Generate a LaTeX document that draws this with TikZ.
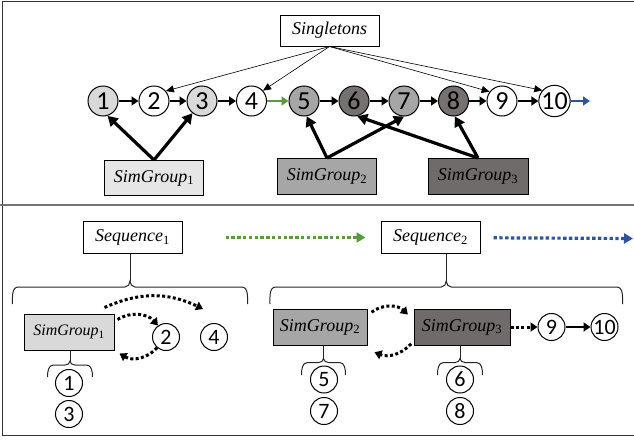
\documentclass[tikz,border=0pt]{standalone}
\usepackage{fontspec}
\setmainfont{Liberation Serif}
\newfontfamily\numfont{Carlito}
\usetikzlibrary{arrows.meta,calc}
\definecolor{lgray}{HTML}{D9D9D9}
\definecolor{lbox}{HTML}{E6E6E6}
\definecolor{mgray}{HTML}{A6A6A6}
\definecolor{dgray}{HTML}{767171}
\definecolor{dbox}{HTML}{6F6B6B}
\definecolor{agreen}{HTML}{5B9A3C}
\definecolor{ablue}{HTML}{2F5597}
\newcommand{\subn}[1]{\textsubscript{\upshape #1}}
% x1, x2, y of horizontal, y of arm ends, tip height, name of tip
\newcommand{\ubrace}[6]{%
  \pgfmathsetmacro\bxc{(#1+#2)/2}%
  \pgfmathsetmacro\bxl{#1+6}%
  \pgfmathsetmacro\bxr{#2-6}%
  \pgfmathsetmacro\bxcl{\bxc-5}%
  \pgfmathsetmacro\bxcr{\bxc+5}%
  \pgfmathsetmacro\byt{#3+#5}%
  \coordinate (#6) at (\bxc,\byt);
  \draw[bracel] (#1,#4) to[out=90,in=180] (\bxl,#3) -- (\bxcl,#3)
    to[out=0,in=-90] (#6) to[out=-90,in=180] (\bxcr,#3)
    -- (\bxr,#3) to[out=0,in=90] (#2,#4);}
\begin{document}
\begin{tikzpicture}[x=1pt,y=1pt,
  tcirc/.style={circle, draw, line width=1pt, minimum size=30pt, inner sep=0pt, font=\numfont\fontsize{26}{26}\selectfont},
  bcirc/.style={circle, draw, line width=1pt, minimum size=27pt, inner sep=0pt, fill=white, font=\numfont\fontsize{22}{22}\selectfont},
  lbl/.style={draw, line width=1pt, inner sep=0pt, font=\itshape\fontsize{18}{18}\selectfont},
  harr/.style={line width=2.8pt, -{Triangle[length=7pt,width=9pt]}},
  garr/.style={line width=3.2pt, -{Triangle[length=10pt,width=11pt]}},
  sarr/.style={line width=0.6pt, -{Triangle[length=8pt,width=7pt]}},
  darr/.style={line width=3pt, dash pattern=on 3pt off 2.4pt, -{Triangle[length=7pt,width=9pt]}},
  seqarr/.style={line width=3.2pt, dash pattern=on 3.4pt off 2.4pt, -{Triangle[length=9pt,width=10pt]}},
  bracel/.style={line width=1pt, black!85}]
\useasboundingbox (0,0) rectangle (634,-439);
\clip (0,0) rectangle (634,-439);
% frames
\draw[line width=1.3pt, black!80] (640,-1.2) -- (2.5,-1.2) -- (2.5,-435.5) -- (640,-435.5);
\draw[line width=2pt, black!55] (0,-205) -- (640,-205);

% ---------- top part ----------
\node[lbl, fill=white, minimum width=99pt, minimum height=31pt] (s) at (329.5,-30.5) {Singletons};
\node[tcirc, fill=lgray] (c1) at (103,-101) {1};
\node[tcirc, fill=white] (c2) at (154,-101) {2};
\node[tcirc, fill=lgray] (c3) at (202,-101) {3};
\node[tcirc, fill=white] (c4) at (251.5,-101) {4};
\node[tcirc, fill=mgray] (c5) at (304,-101) {5};
\node[tcirc, fill=dgray] (c6) at (354,-101) {6};
\node[tcirc, fill=mgray] (c7) at (404,-101) {7};
\node[tcirc, fill=dgray] (c8) at (453.5,-101) {8};
\node[tcirc, fill=white] (c9) at (502,-101) {9};
\node[tcirc, fill=white] (c10) at (554.5,-101) {10};
\coordinate (tend) at (590,-101);

\node[lbl, fill=lbox, minimum width=99pt, minimum height=35pt] (sg1) at (154,-178) {SimGroup\subn{1}};
\node[lbl, fill=mgray, minimum width=99pt, minimum height=36pt] (sg2) at (327,-176.5) {SimGroup\subn{2}};
\node[lbl, fill=dbox, minimum width=100pt, minimum height=36pt] (sg3) at (478,-176.5) {SimGroup\subn{3}};

\foreach \a/\b in {c1/c2,c2/c3,c3/c4,c5/c6,c6/c7,c7/c8,c8/c9,c9/c10}
  \draw[harr] (\a) -- (\b);
\draw[harr, agreen] (c4) -- (c5);
\draw[harr, ablue] (c10) -- (tend);

\draw[sarr] (s.south) -- (c2.40);
\draw[sarr] (s.south) -- (c4.42);
\draw[sarr] (s.south) -- (c9.143);
\draw[sarr] (s.south) -- (c10.139);

\draw[garr] (sg1.north) -- (c1.-73);
\draw[garr] (sg1.north) -- (c3.-128);
\draw[garr] (sg2.north) -- (c5.-80);
\draw[garr] (sg2.north) -- (c7.-90);
\draw[garr] (sg3.north) -- (c8.-85);
\draw[garr] (sg3.north) -- (c6.-78);

% ---------- bottom part ----------
\node[lbl, fill=white, minimum width=99pt, minimum height=32pt] (q1) at (132.5,-237.5) {Sequence\subn{1}};
\node[lbl, fill=white, minimum width=99pt, minimum height=32pt] (q2) at (430.5,-237.5) {Sequence\subn{2}};
\coordinate (qend) at (633,-238.5);
\draw[seqarr, agreen, shorten <=43pt, shorten >=15pt] (q1) -- (q2);
\draw[seqarr, ablue, shorten <=13pt] (q2) -- (qend);

\ubrace{12.5}{247.5}{-287}{-304}{6}{b1}
\draw[bracel] (q1.south -| b1) -- (b1);
\ubrace{270}{622.5}{-287}{-304}{6}{b2}
\draw[bracel] (q2.south -| b2) -- (b2);

\node[lbl, fill=lgray, minimum width=90pt, minimum height=36pt, font=\itshape\fontsize{16}{16}\selectfont] (sb1) at (69,-332) {SimGroup\subn{1}};
\node[lbl, fill=mgray, minimum width=94pt, minimum height=36pt] (sb2) at (320,-327) {SimGroup\subn{2}};
\node[lbl, fill=dbox, minimum width=96pt, minimum height=36pt] (sb3) at (462,-327) {SimGroup\subn{3}};

\node[bcirc] (d2) at (166,-337) {2};
\node[bcirc] (d4) at (214,-337) {4};
\node[bcirc] (d1) at (69,-383) {1};
\node[bcirc] (d3) at (69,-414) {3};
\node[bcirc] (d5) at (324,-379.5) {5};
\node[bcirc] (d7) at (324,-411) {7};
\node[bcirc] (d6) at (460,-379.5) {6};
\node[bcirc] (d8) at (460,-411) {8};
\node[bcirc] (d9) at (551.5,-327) {9};
\node[bcirc] (d10) at (604.5,-327) {10};

\ubrace{47.5}{92.5}{-365}{-377}{4}{b3}
\draw[bracel] (sb1.south -| b3) -- (b3);
\ubrace{301.5}{345.5}{-362.5}{-375}{4}{b4}
\draw[bracel] (sb2.south -| b4) -- (b4);
\ubrace{437.5}{482.5}{-362.5}{-375}{4}{b5}
\draw[bracel] (sb3.south -| b5) -- (b5);

% dotted arcs, left group
\coordinate (l1s) at ($(sb1.north east)+(-10,6)$);
\coordinate (l1e) at ($(d4)+(-11,28)$);
\draw[darr] (l1s) to[bend left=25] (l1e);
\coordinate (l2s) at ($(sb1.north east)+(3,-6)$);
\draw[darr] (l2s) to[bend left=40] (d2.125);
\coordinate (l3e) at ($(sb1.south east)+(5,-3)$);
\draw[darr] (d2.230) to[bend left=40] (l3e);
% dotted arcs, right group
\coordinate (r1s) at ($(sb2.north east)+(4,-3.7)$);
\coordinate (r1e) at ($(sb3.north west)+(-5.6,-6)$);
\draw[darr] (r1s) to[bend left=40] (r1e);
\coordinate (r2s) at ($(sb3.south west)+(-2.4,1.7)$);
\coordinate (r2e) at ($(sb2.south east)+(7,-6.7)$);
\draw[darr] (r2s) to[bend left=35] (r2e);
\draw[darr] (sb3) -- (d9);
\draw[harr] (d9) -- (d10);
\end{tikzpicture}
\end{document}
